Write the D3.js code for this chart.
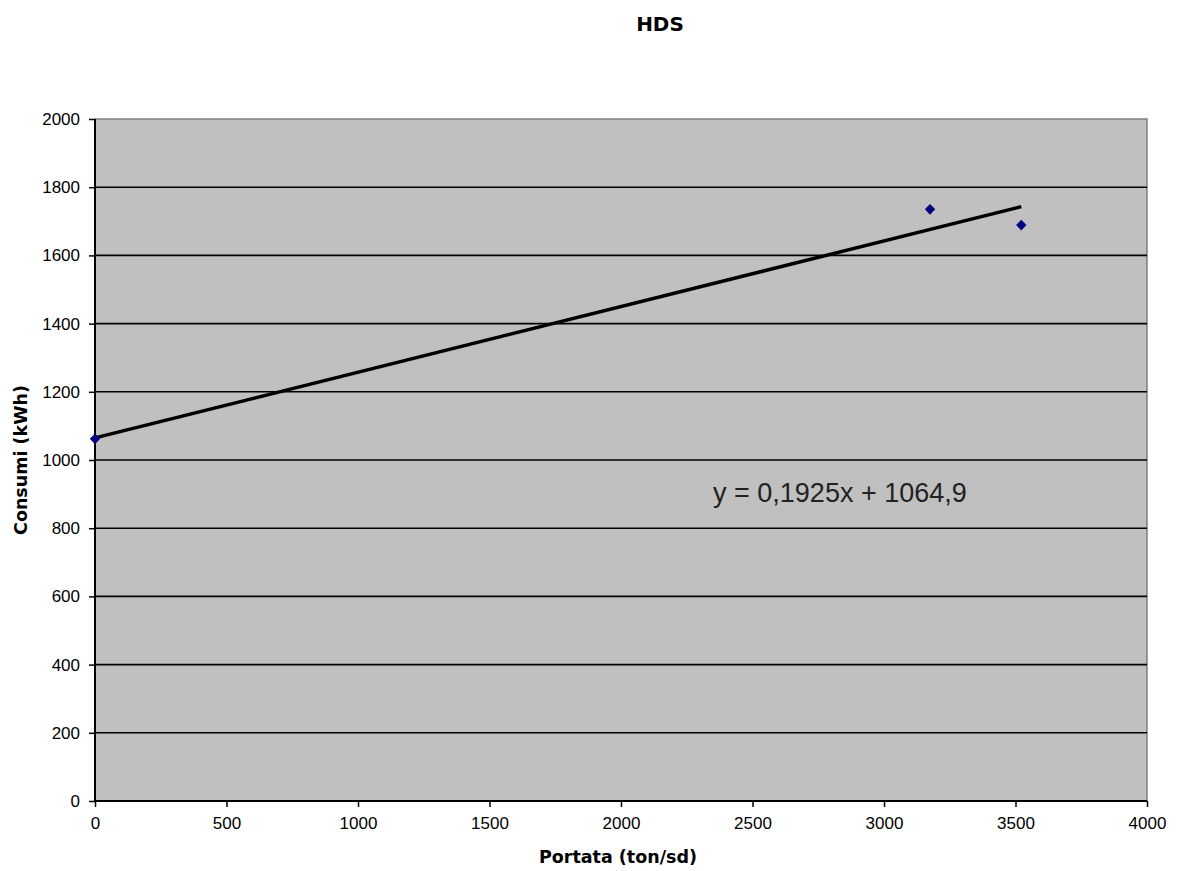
<!DOCTYPE html>
<html>
<head>
<meta charset="utf-8">
<script src="https://cdn.jsdelivr.net/npm/d3@7"></script>
<style>
  body { margin: 0; background: #fff; }
  text { font-family: "Liberation Sans", Arial, sans-serif; }
</style>
</head>
<body>
<script>
// measured points (Portata, Consumi)
const portata = [0, 3175, 3522];
const consumi = [1062, 1735, 1689];
// linear trend from the chart label
const trendSlope = 0.1925;
const trendIntercept = 1064.9;
const xTicks = [0, 500, 1000, 1500, 2000, 2500, 3000, 3500, 4000];
const yTicks = [0, 200, 400, 600, 800, 1000, 1200, 1400, 1600, 1800, 2000];

const svgWidth = 1178, svgHeight = 871;
const margin = { top: 119, right: 31, bottom: 70, left: 95 };
const width = svgWidth - margin.left - margin.right;
const height = svgHeight - margin.top - margin.bottom;

const root = d3.select("body").append("svg")
    .attr("width", svgWidth)
    .attr("height", svgHeight);

const svg = root.append("g")
    .attr("transform", `translate(${margin.left}, ${margin.top})`);

const x = d3.scaleLinear().domain([0, 4000]).range([0, width]);
const y = d3.scaleLinear().domain([0, 2000]).range([height, 0]);

// plot area
svg.append("rect")
    .attr("width", width).attr("height", height)
    .attr("fill", "#c0c0c0")
    .attr("stroke", "#808080").attr("stroke-width", 1.5);

// gridlines
svg.selectAll(".grid").data(yTicks.filter(d => d > 0 && d < 2000)).enter()
    .append("line")
    .attr("x1", 0).attr("x2", width)
    .attr("y1", d => y(d)).attr("y2", d => y(d))
    .attr("stroke", "#000").attr("stroke-width", 1.6);

// axes
const yAxis = svg.append("g")
    .call(d3.axisLeft(y).tickValues(yTicks).tickSize(6).tickPadding(9).tickFormat(d3.format("d")));
const xAxis = svg.append("g")
    .attr("transform", `translate(0, ${height})`)
    .call(d3.axisBottom(x).tickValues(xTicks).tickSize(6).tickPadding(10).tickFormat(d3.format("d")));

[yAxis, xAxis].forEach(ax => {
    ax.select(".domain").attr("stroke", "#000").attr("stroke-width", 2);
    ax.selectAll(".tick line").attr("stroke", "#000").attr("stroke-width", 1.5);
    ax.selectAll(".tick text")
        .attr("fill", "#000")
        .style("font-family", "'Liberation Sans', Arial, sans-serif")
        .style("font-size", "17px");
});
xAxis.select(".domain").attr("d", `M0,0H${width}`);
yAxis.select(".domain").attr("d", `M0,${height}V0`);

// trend line
const xMax = d3.max(portata);
svg.append("line")
    .attr("x1", x(0)).attr("y1", y(trendIntercept))
    .attr("x2", x(xMax)).attr("y2", y(trendSlope * xMax + trendIntercept))
    .attr("stroke", "#000").attr("stroke-width", 3.5);

// points
svg.selectAll(".pt").data(portata).enter()
    .append("path")
    .attr("d", d3.symbol().type(d3.symbolDiamond).size(34))
    .attr("transform", (d, i) => `translate(${x(d)}, ${y(consumi[i])}) scale(1.65, 1)`)
    .attr("fill", "#000080");

// equation label
svg.append("text")
    .attr("x", x(2350)).attr("y", y(876))
    .attr("fill", "#222")
    .style("font-size", "27px")
    .text("y = 0,1925x + 1064,9");

// titles
root.append("text")
    .attr("x", 660).attr("y", 31)
    .attr("text-anchor", "middle")
    .style("font-family", "'DejaVu Sans', sans-serif")
    .style("font-weight", "bold").style("font-size", "20px")
    .text("HDS");

root.append("text")
    .attr("x", 618).attr("y", 863)
    .attr("text-anchor", "middle")
    .style("font-family", "'DejaVu Sans', sans-serif")
    .style("font-weight", "bold").style("font-size", "17.5px")
    .text("Portata (ton/sd)");

root.append("text")
    .attr("transform", "translate(27, 460) rotate(-90)")
    .attr("text-anchor", "middle")
    .style("font-family", "'DejaVu Sans', sans-serif")
    .style("font-weight", "bold").style("font-size", "17.5px")
    .text("Consumi (kWh)");
</script>
</body>
</html>
